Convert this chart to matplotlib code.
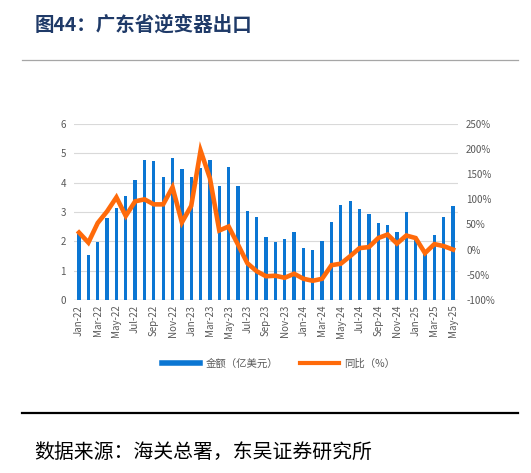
import numpy as np
import matplotlib
matplotlib.use("Agg")
import matplotlib.pyplot as plt
from matplotlib.lines import Line2D

plt.rcParams['font.family'] = ['Noto Sans CJK SC', 'DejaVu Sans']

months = ["Jan-22", "Feb-22", "Mar-22", "Apr-22", "May-22", "Jun-22", "Jul-22", "Aug-22",
          "Sep-22", "Oct-22", "Nov-22", "Dec-22", "Jan-23", "Feb-23", "Mar-23", "Apr-23",
          "May-23", "Jun-23", "Jul-23", "Aug-23", "Sep-23", "Oct-23", "Nov-23", "Dec-23",
          "Jan-24", "Feb-24", "Mar-24", "Apr-24", "May-24", "Jun-24", "Jul-24", "Aug-24",
          "Sep-24", "Oct-24", "Nov-24", "Dec-24", "Jan-25", "Feb-25", "Mar-25", "Apr-25",
          "May-25"]
# export value, 100 million USD
amount = [2.26, 1.52, 1.96, 2.79, 3.12, 3.53, 4.09, 4.78, 4.75, 4.18, 4.83, 4.48,
          4.19, 4.50, 4.78, 3.87, 4.52, 3.87, 3.02, 2.81, 2.16, 1.97, 2.07, 2.32,
          1.78, 1.71, 2.00, 2.65, 3.23, 3.38, 3.11, 2.94, 2.63, 2.56, 2.32, 3.00,
          2.15, 1.63, 2.22, 2.81, 3.21]
# yoy, %
yoy = [34, 14, 53, 76, 104, 67, 96, 100, 90, 90, 124, 54,
       87, 197, 142, 38, 46, 10, -27, -43, -53, -52, -56, -48,
       -58, -62, -58, -31, -28, -13, 3, 5, 23, 30, 12, 28,
       23, -7, 11, 7, 0]

bar_color = "#0B76D3"
line_color = "#FF6A0A"
grey = "#595959"

fig = plt.figure(figsize=(5.31, 4.73), dpi=100)

# title and separators
fig.text(0.066, 0.948, "图44：广东省逆变器出口", fontsize=14, fontweight="bold",
         color="#1F3A68", va="center", ha="left")
fig.add_artist(Line2D([0.042, 0.975], [0.873, 0.873], color="#A6A6A6", lw=0.9))
fig.add_artist(Line2D([0.042, 0.975], [0.127, 0.127], color="black", lw=1.6))
fig.text(0.064, 0.043, "数据来源：海关总署，东吴证券研究所", fontsize=14.3,
         color="black", va="center", ha="left")

ax = fig.add_axes([0.140, 0.366, 0.722, 0.372])
x = np.arange(len(months))
ax.bar(x, amount, width=0.35, color=bar_color, zorder=2)
ax.set_xlim(-0.5, len(months) - 0.5)
ax.set_ylim(0, 6)
ax.set_yticks(range(0, 7))
ax.grid(axis="y", color="#D9D9D9", lw=0.8, zorder=0)
ax.set_axisbelow(True)
for s in ax.spines.values():
    s.set_visible(False)
ax.axhline(0, color="#D0D0D0", lw=1.0, zorder=1)
ax.set_xticks(x[::2])
ax.set_xticklabels(months[::2], rotation=90, fontsize=7, color=grey)
ax.tick_params(axis="both", length=0, labelsize=7, colors=grey)
ax.tick_params(axis="y", pad=6)

ax2 = ax.twinx()
ax2.plot(x, yoy, color=line_color, lw=3.3, solid_joinstyle="miter", zorder=3)
ax2.set_ylim(-100, 250)
ax2.set_yticks(range(-100, 251, 50))
ax2.set_yticklabels([f"{v}%" for v in range(-100, 251, 50)])
ax2.tick_params(axis="y", length=0, labelsize=7, colors=grey, pad=6)
for s in ax2.spines.values():
    s.set_visible(False)

# legend
handles = [Line2D([], [], color=bar_color, lw=4),
           Line2D([], [], color=line_color, lw=3)]
fig.legend(handles, ["金额（亿美元）", "同比（%）"], loc="center",
           bbox_to_anchor=(0.524, 0.231), ncol=2, frameon=False, fontsize=7.5,
           labelcolor=grey, handlelength=3.7, columnspacing=2.1, handletextpad=0.5)

fig.savefig("out.png", dpi=100)
